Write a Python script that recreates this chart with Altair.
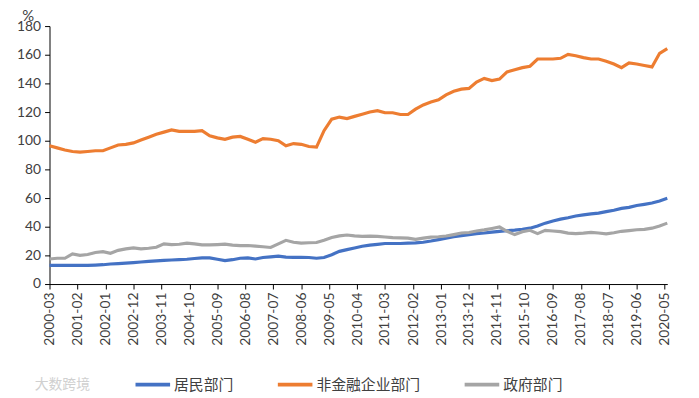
import altair as alt
import pandas as pd

# Quarterly observations, 2000-03 .. 2020-06
household = [13, 13, 13, 13, 13, 13, 13.2, 13.5, 14, 14.3, 14.6, 15, 15.4, 15.8, 16.2, 16.5,
             16.8, 17, 17.3, 17.8, 18.3, 18.3, 17.3, 16.4, 17, 18, 18.3, 17.5, 18.5, 19, 19.5, 18.8,
             18.6, 18.6, 18.5, 18, 18.5, 20.5, 22.8, 24, 25.2, 26.4, 27.2, 27.7, 28.3, 28.3, 28.3, 28.5,
             28.7, 29.2, 30, 31, 32, 33, 33.8, 34.5, 35.2, 35.6, 36.2, 36.8, 37.2, 37.6, 38.2, 39,
             40.5, 42.5, 44, 45.3, 46.3, 47.5, 48.3, 49, 49.5, 50.5, 51.5, 52.8, 53.5, 54.8, 55.6, 56.5,
             58, 59.8]
corporate = [96.5, 95, 93.5, 92.5, 92, 92.5, 93, 93, 95, 97, 97.5, 98.5, 100.5, 102.5, 104.5, 106,
             107.5, 106.5, 106.5, 106.5, 107, 103.5, 102, 101, 102.5, 103, 101, 99, 101.5, 101, 100, 96.5,
             98, 97.5, 96, 95.5, 107, 115, 116.5, 115.5, 117, 118.5, 120, 121, 119.5, 119.5, 118.3, 118.3,
             122, 125, 127, 128.5, 132, 134.5, 136, 136.5, 141, 143.5, 142, 143, 148, 149.5, 151, 152,
             157, 157, 157, 157.5, 160.2, 159.3, 158, 157, 157, 155.5, 153.5, 151, 154.3, 153.5, 152.5, 151.5,
             161, 164.3]
government = [17.5, 18, 18, 21, 20, 20.6, 22, 22.6, 21.5, 23.5, 24.5, 25.2, 24.5, 25, 25.7, 28,
              27.5, 27.8, 28.5, 28, 27.3, 27.3, 27.5, 27.8, 27.2, 26.8, 26.9, 26.5, 26, 25.5, 28, 30.5,
              29.2, 28.6, 28.8, 29, 30.5, 32.5, 33.6, 34.2, 33.6, 33.3, 33.4, 33.3, 32.8, 32.4, 32.2, 32,
              31.2, 32, 32.7, 33, 33.5, 34.5, 35.6, 36, 37, 37.8, 38.8, 39.8, 36.8, 34.5, 36.5, 37.5,
              35.2, 37.5, 37, 36.6, 35.5, 35.2, 35.5, 36.1, 35.6, 35, 35.8, 36.8, 37.3, 37.9, 38.2, 39,
              40.5, 42.5]

series_names = ["居民部门", "非金融企业部门", "政府部门"]
series_colors = ["#4472C4", "#ED7D31", "#A5A5A5"]

dates = []
for q in range(len(household)):
    m = 3 + 3 * q
    y = 2000 + (m - 1) // 12
    mm = (m - 1) % 12 + 1
    dates.append(f"{y:04d}-{mm:02d}-01")

# tick labels every 11 months from 2000-03
tick_labels = []
for k in range(23):
    m = 3 + 11 * k
    y = 2000 + (m - 1) // 12
    mm = (m - 1) % 12 + 1
    tick_labels.append((y, mm))

rows = []
for name, vals in zip(series_names, [household, corporate, government]):
    for d, v in zip(dates, vals):
        rows.append({"date": d, "value": v, "series": name})
df = pd.DataFrame(rows)

tick_values = [alt.DateTime(year=y, month=m, date=1, utc=True) for y, m in tick_labels]

chart = alt.Chart(df).mark_line(strokeWidth=3.2).encode(
    x=alt.X("date:T",
            scale=alt.Scale(type="utc", nice=False,
                            domain=[alt.DateTime(year=2000, month=3, date=1, utc=True),
                                    alt.DateTime(year=2020, month=6, date=1, utc=True)]),
            axis=alt.Axis(values=tick_values,
                          labelExpr="utcFormat(datum.value, '%Y-%m')",
                          labelAngle=270, labelFontSize=14, labelFont="Lato",
                          labelColor="#404040", domainColor="#000000", tickColor="#000000",
                          tickSize=5, grid=False, title=None, labelPadding=3,
                          labelOverlap=False)),
    y=alt.Y("value:Q",
            scale=alt.Scale(domain=[0, 180], nice=False),
            axis=alt.Axis(values=list(range(0, 181, 20)), labelFontSize=14, labelFont="Lato",
                          labelColor="#404040", domainColor="#000000", tickColor="#000000",
                          tickSize=5, grid=False, title="%", titleAngle=0, titleX=-28,
                          titleY=-6, titleAlign="left", titleBaseline="alphabetic",
                          titleFontSize=15, titleFont="Lato", titleFontWeight="normal",
                          titleColor="#404040", labelPadding=4)),
    color=alt.Color("series:N",
                    scale=alt.Scale(domain=series_names, range=series_colors),
                    legend=alt.Legend(title=None, orient="none", direction="horizontal",
                                      legendX=85, legendY=343, symbolType="stroke",
                                      symbolSize=1225, symbolStrokeWidth=4, labelFontSize=15,
                                      labelFont="Noto Sans CJK SC", labelColor="#404040",
                                      columnPadding=36, labelOffset=2, padding=0)),
    order=alt.Order("date:T"),
).properties(
    width=625,
    height=261,
    padding={"left": 42, "top": 16, "right": 24, "bottom": 113},
    autosize=alt.AutoSizeParams(type="none"),
    title=alt.TitleParams("大数跨境", orient="top", anchor="start", frame="group",
                          dx=-15, dy=392, fontSize=14, font="Noto Sans CJK SC",
                          color="#d0d0d0", fontWeight="normal"),
).configure_view(stroke=None)

chart.save("out.html", embed_options={"renderer": "svg", "actions": False})
